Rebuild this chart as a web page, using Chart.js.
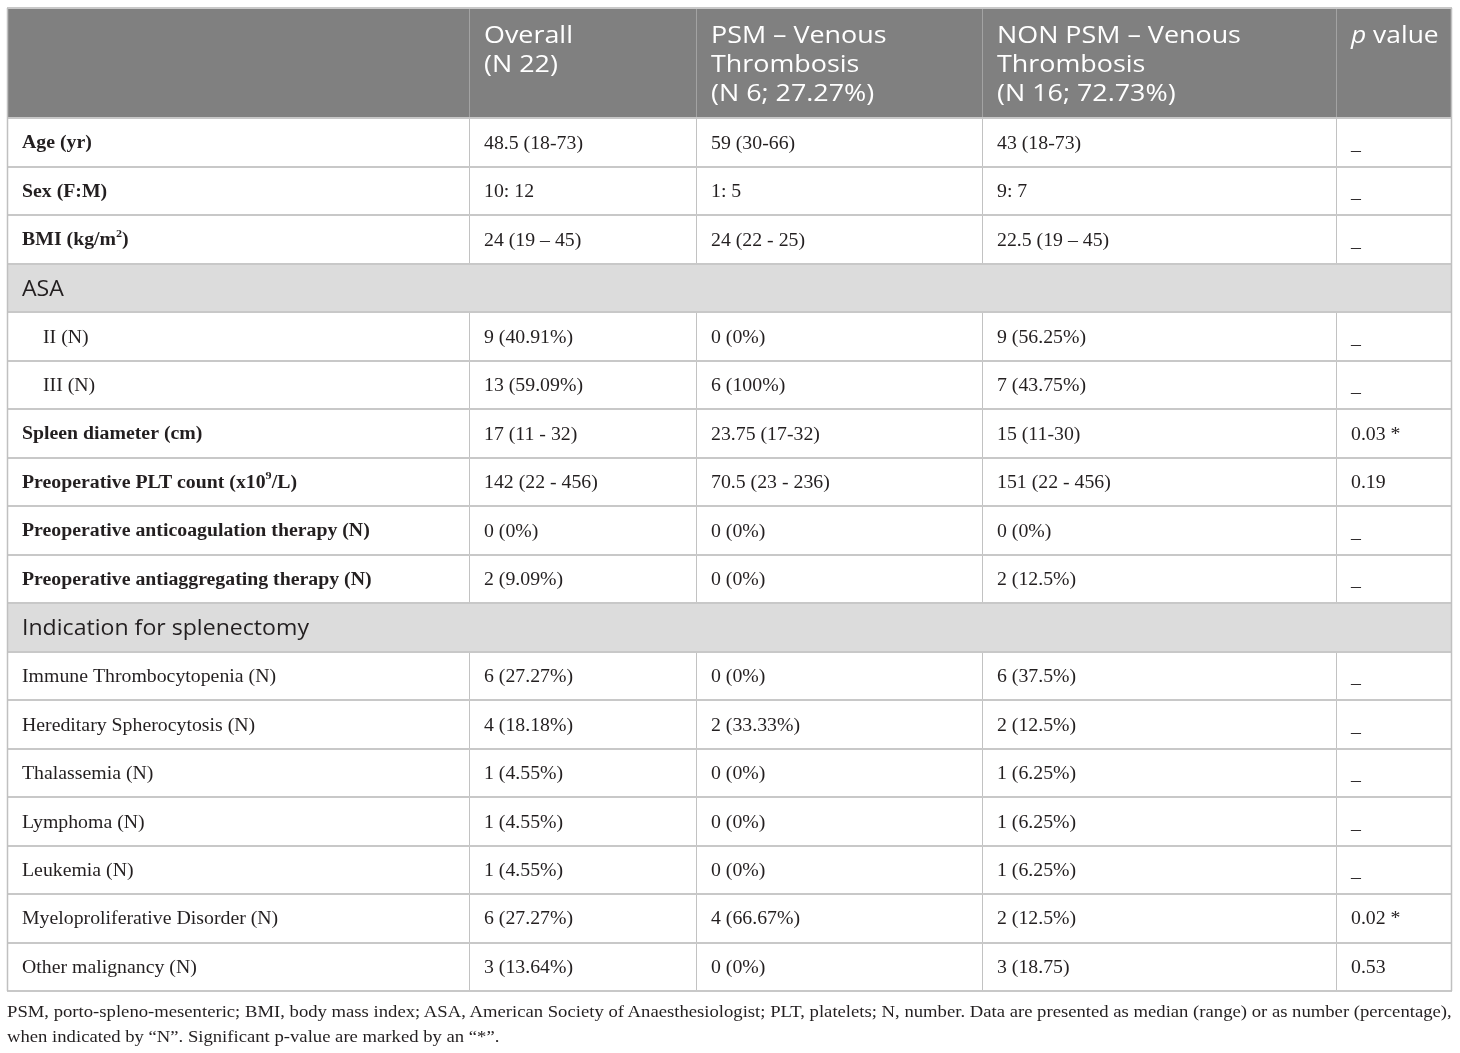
<!DOCTYPE html>
<html>
<head>
<meta charset="utf-8">
<script src="https://cdn.jsdelivr.net/npm/chart.js@4.4.1/dist/chart.umd.min.js"></script>
<style>
  body { margin: 0; background: #fff; }
  #wrap { position: relative; width: 1460px; height: 1053px; }
  #note {
    position: absolute; left: 7px; top: 999px;
    font-family: "Liberation Serif", serif; font-size: 17px; line-height: 25px;
    color: #231f20; white-space: nowrap;
    transform: scaleX(1.098); transform-origin: left top;
  }
</style>
</head>
<body>
<div id="wrap">
  <canvas id="chart" width="1460" height="1053"></canvas>
  <div id="note">PSM, porto-spleno-mesenteric; BMI, body mass index; ASA, American Society of Anaesthesiologist; PLT, platelets; N, number. Data are presented as median (range) or as number (percentage),<br>when indicated by “N”. Significant p-value are marked by an “*”.</div>
</div>
<script>
// --- table data ---
const headers = ["", "Overall\n(N 22)", "PSM – Venous\nThrombosis\n(N 6; 27.27%)", "NON PSM – Venous\nThrombosis\n(N 16; 72.73%)", "p value"];

// row kinds: b = bold label, s = section row, i = indented, n = normal
const rowKinds = ["b", "b", "b", "s", "i", "i", "b", "b", "b", "b", "s", "n", "n", "n", "n", "n", "n", "n"];
const rowLabels = [
  "Age (yr)", "Sex (F:M)", "BMI (kg/m^2^)", "ASA", "II (N)", "III (N)",
  "Spleen diameter (cm)", "Preoperative PLT count (x10^9^/L)",
  "Preoperative anticoagulation therapy (N)", "Preoperative antiaggregating therapy (N)",
  "Indication for splenectomy", "Immune Thrombocytopenia (N)", "Hereditary Spherocytosis (N)",
  "Thalassemia (N)", "Lymphoma (N)", "Leukemia (N)", "Myeloproliferative Disorder (N)", "Other malignancy (N)"
];
const overall = ["48.5 (18-73)", "10: 12", "24 (19 – 45)", null, "9 (40.91%)", "13 (59.09%)",
  "17 (11 - 32)", "142 (22 - 456)", "0 (0%)", "2 (9.09%)", null, "6 (27.27%)", "4 (18.18%)",
  "1 (4.55%)", "1 (4.55%)", "1 (4.55%)", "6 (27.27%)", "3 (13.64%)"];
const psm = ["59 (30-66)", "1: 5", "24 (22 - 25)", null, "0 (0%)", "6 (100%)",
  "23.75 (17-32)", "70.5 (23 - 236)", "0 (0%)", "0 (0%)", null, "0 (0%)", "2 (33.33%)",
  "0 (0%)", "0 (0%)", "0 (0%)", "4 (66.67%)", "0 (0%)"];
const nonPsm = ["43 (18-73)", "9: 7", "22.5 (19 – 45)", null, "9 (56.25%)", "7 (43.75%)",
  "15 (11-30)", "151 (22 - 456)", "0 (0%)", "2 (12.5%)", null, "6 (37.5%)", "2 (12.5%)",
  "1 (6.25%)", "1 (6.25%)", "1 (6.25%)", "2 (12.5%)", "3 (18.75)"];
const pValues = ["_", "_", "_", null, "_", "_", "0.03 *", "0.19", "_", "_", null, "_", "_",
  "_", "_", "_", "0.02 *", "0.53"];

// --- layout ---
const COL_EDGES = [0, 462, 689, 975, 1329, 1445];
const HEADER_UNITS = 2.27;
const TOTAL_UNITS = HEADER_UNITS + rowLabels.length;
const SERIF = '"Liberation Serif", serif';
const SANS = '"Open Sans", sans-serif';
const TEXT = "#231f20";

function drawRich(ctx, text, x, y, size, weight, family, sx) {
  // text with ^sup^ segments, squeezed/stretched by sx
  const parts = text.split("^");
  ctx.save();
  ctx.translate(x, y);
  ctx.scale(sx, 1);
  let cx = 0;
  parts.forEach((p, i) => {
    const sup = i % 2 === 1;
    const fs = sup ? Math.round(size * 0.62) : size;
    ctx.font = `${weight} ${fs}px ${family}`;
    ctx.fillText(p, cx, sup ? -size * 0.38 : 0);
    cx += ctx.measureText(p).width;
  });
  ctx.restore();
}

const tablePlugin = {
  id: "tablePlugin",
  beforeDatasetsDraw(chart) {
    const ctx = chart.ctx;
    const xs = chart.scales.x, ys = chart.scales.y;
    const X = v => xs.getPixelForValue(v);
    const Y = v => ys.getPixelForValue(v);
    const rowTop = r => HEADER_UNITS + r;
    const left = X(COL_EDGES[0]), right = X(COL_EDGES[COL_EDGES.length - 1]);

    // header background
    ctx.fillStyle = "#808080";
    ctx.fillRect(left, Y(0), right - left, Y(HEADER_UNITS) - Y(0));
    // section backgrounds
    rowKinds.forEach((k, r) => {
      if (k === "s") {
        ctx.fillStyle = "#dcdcdc";
        ctx.fillRect(left, Y(rowTop(r)), right - left, Y(rowTop(r) + 1) - Y(rowTop(r)));
      }
    });

    // vertical lines
    ctx.lineWidth = 1;
    for (let c = 1; c < COL_EDGES.length - 1; c++) {
      const x = Math.round(X(COL_EDGES[c])) + 0.5;
      ctx.strokeStyle = "#a3a3a3";
      ctx.beginPath(); ctx.moveTo(x, Y(0)); ctx.lineTo(x, Y(HEADER_UNITS)); ctx.stroke();
      ctx.strokeStyle = "#c2c2c2";
      rowKinds.forEach((k, r) => {
        if (k === "s") return;
        ctx.beginPath(); ctx.moveTo(x, Y(rowTop(r))); ctx.lineTo(x, Y(rowTop(r) + 1)); ctx.stroke();
      });
    }
    // horizontal lines
    ctx.strokeStyle = "#c8c8c8";
    ctx.lineWidth = 2;
    for (let r = 0; r <= rowLabels.length; r++) {
      const y = Math.round(Y(rowTop(r)));
      ctx.beginPath(); ctx.moveTo(left, y); ctx.lineTo(right, y); ctx.stroke();
    }
    ctx.beginPath(); ctx.moveTo(left, Math.round(Y(0))); ctx.lineTo(right, Math.round(Y(0))); ctx.stroke();
    // outer sides
    ctx.lineWidth = 1.5;
    ctx.strokeStyle = "#c0c0c0";
    ctx.beginPath(); ctx.moveTo(left + 0.5, Y(0)); ctx.lineTo(left + 0.5, Y(TOTAL_UNITS)); ctx.stroke();
    ctx.beginPath(); ctx.moveTo(right - 0.5, Y(0)); ctx.lineTo(right - 0.5, Y(TOTAL_UNITS)); ctx.stroke();

    // header text
    ctx.textBaseline = "middle";
    ctx.textAlign = "left";
    ctx.fillStyle = "#ffffff";
    headers.forEach((h, c) => {
      const x = X(COL_EDGES[c]) + 15;
      h.split("\n").forEach((line, i) => {
        const y = Y(0) + 28 + i * 29;
        if (line === "p value") {
          ctx.save(); ctx.translate(x, y); ctx.scale(1.1, 1);
          ctx.font = `italic 24px ${SANS}`;
          ctx.fillText("p", 0, 0);
          const w = ctx.measureText("p ").width;
          ctx.font = `normal 24px ${SANS}`;
          ctx.fillText("value", w, 0);
          ctx.restore();
        } else {
          drawRich(ctx, line, x, y, 24, "normal", SANS, 1.12);
        }
      });
    });

    // body text
    const cols = [overall, psm, nonPsm, pValues];
    rowKinds.forEach((k, r) => {
      const yc = (Y(rowTop(r)) + Y(rowTop(r) + 1)) / 2 + 1.5;
      ctx.fillStyle = TEXT;
      if (k === "s") {
        drawRich(ctx, rowLabels[r], X(COL_EDGES[0]) + 15, yc, 22, "normal", SANS, 1.05);
        return;
      }
      const indent = k === "i" ? 36 : 15;
      drawRich(ctx, rowLabels[r], X(COL_EDGES[0]) + indent, yc, 18, k === "b" ? "bold" : "normal", SERIF, 1.1);
      cols.forEach((arr, c) => {
        const v = arr[r];
        if (v == null) return;
        drawRich(ctx, v, X(COL_EDGES[c + 1]) + 15, yc + (v === "_" ? 1 : 0), 18, "normal", SERIF, 1.1);
      });
    });
  }
};

const chart = new Chart(document.getElementById("chart").getContext("2d"), {
  type: "scatter",
  data: { datasets: [{ data: [], pointRadius: 0 }] },
  options: {
    responsive: false,
    animation: false,
    devicePixelRatio: 1,
    layout: { padding: { left: 7, right: 8, top: 8, bottom: 62 } },
    plugins: { legend: { display: false }, tooltip: { enabled: false } },
    scales: {
      x: { type: "linear", min: COL_EDGES[0], max: COL_EDGES[COL_EDGES.length - 1], display: false },
      y: { type: "linear", min: 0, max: TOTAL_UNITS, reverse: true, display: false }
    }
  },
  plugins: [tablePlugin]
});
</script>
</body>
</html>
